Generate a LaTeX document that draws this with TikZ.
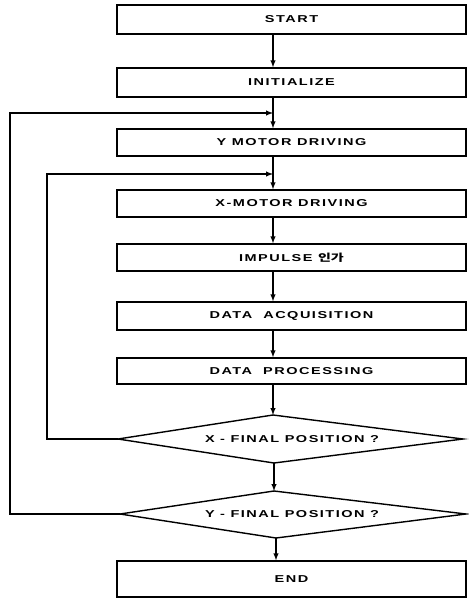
\documentclass[tikz,border=0pt]{standalone}
\usepackage{fontspec}
\newfontfamily\flowfont{Liberation Sans}[FakeStretch=1.45,LetterSpace=15]
\newfontfamily\hanfont{Noto Sans CJK KR}[FakeStretch=1.4]

\begin{document}
\begin{tikzpicture}[x=1pt,y=-1pt,
  every node/.style={font=\flowfont\bfseries\fontsize{10}{12}\selectfont},
  box/.style={draw,line width=1.4pt,minimum width=349pt,inner sep=0pt},
  flow/.style={->,>=latex,line width=1.4pt}]
\useasboundingbox (0,0) rectangle (468,599);
% process boxes
\node[box,minimum height=29pt] (start) at (291.5,19.5) {START};
\node[box,minimum height=29pt] (init) at (291.5,82.5) {INITIALIZE};
\node[box,minimum height=27pt] (ymot) at (291.5,142.5) {Y MOTOR DRIVING};
\node[box,minimum height=27pt] (xmot) at (291.5,203.5) {X-MOTOR DRIVING};
\node[box,minimum height=27pt] (imp) at (291.5,257.5) {IMPULSE {\hanfont 인가}};
\node[box,minimum height=28pt] (acq) at (291.5,316) {DATA \ ACQUISITION};
\node[box,minimum height=26pt] (proc) at (291.5,371) {DATA \ PROCESSING};
\node[box,minimum height=36pt] (end) at (291.5,579) {END};
% decisions
\draw[line width=1.4pt] (273,415) coordinate (xtop) -- (463,439) coordinate (xright)
  -- (274,463) coordinate (xbot) -- (118,439) coordinate (xleft) -- cycle;
\node (xtest) at (292,439) {X - FINAL POSITION ?};
\draw[line width=1.4pt] (274,491) coordinate (ytop) -- (466,514) coordinate (yright)
  -- (276,538) coordinate (ybot) -- (120,514) coordinate (yleft) -- cycle;
\node (ytest) at (292,514) {Y - FINAL POSITION ?};
% main line
\coordinate (spine) at (273,0);
\coordinate (yjoin) at (273,113);
\coordinate (xjoin) at (273,174);
\draw[flow] (start.south -| spine) -- (init.north -| spine);
\draw[flow] (init.south -| spine) -- (ymot.north -| spine);
\draw[flow] (ymot.south -| spine) -- (xmot.north -| spine);
\draw[flow] (xmot.south -| spine) -- (imp.north -| spine);
\draw[flow] (imp.south -| spine) -- (acq.north -| spine);
\draw[flow] (acq.south -| spine) -- (proc.north -| spine);
\draw[flow] (proc.south -| spine) -- (xtop);
\draw[flow] (xbot) -- (ytop);
\draw[flow] (ybot) -- (end.north -| ybot);
% loops back
\draw[flow] (xleft) -- (47,439) |- (xjoin);
\draw[flow] (yleft) -- (10,514) |- (yjoin);
\end{tikzpicture}
\end{document}
